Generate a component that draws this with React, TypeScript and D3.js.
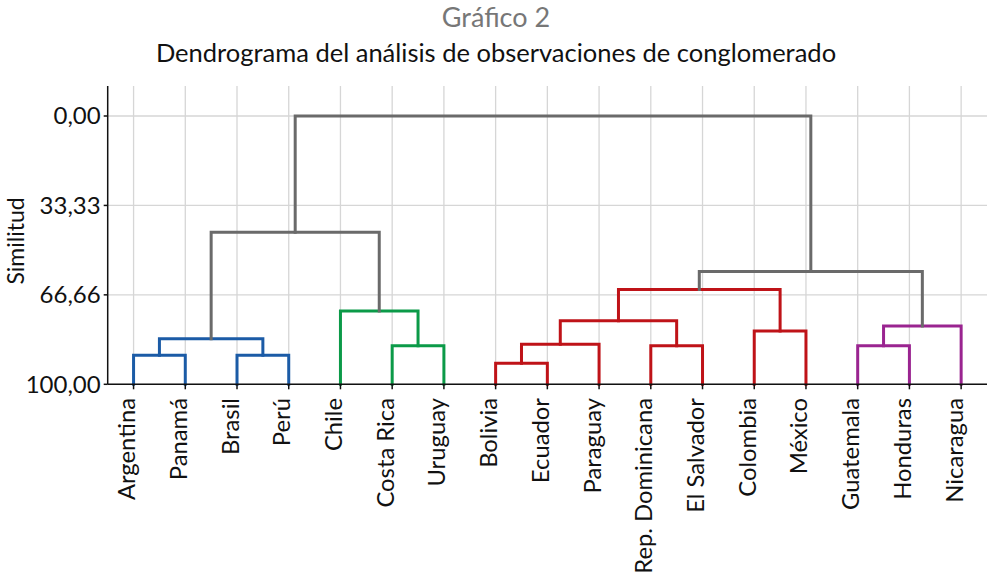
import React from "react";
import * as d3 from "d3";

const leaves = [
  "Argentina", "Panamá", "Brasil", "Perú", "Chile", "Costa Rica", "Uruguay",
  "Bolivia", "Ecuador", "Paraguay", "Rep. Dominicana", "El Salvador",
  "Colombia", "México", "Guatemala", "Honduras", "Nicaragua",
];

// merges: [leftId, rightId, similarity, group]; leaves are 0..16, merges 17..
const mergeLeft = [0, 2, 17, 5, 4, 19, 7, 23, 10, 24, 12, 26, 14, 29, 28, 22];
const mergeRight = [1, 3, 18, 6, 20, 21, 8, 9, 11, 25, 13, 27, 15, 16, 30, 31];
const mergeHeight = [89.2, 89.2, 83.0, 85.6, 72.7, 43.3, 92.2, 85.1, 85.6, 76.3, 80.1, 64.7, 85.6, 78.3, 58.0, 0];
const mergeGroup = ["blue", "blue", "blue", "green", "green", "gray", "red", "red", "red", "red", "red", "red", "purple", "purple", "gray", "gray"];

const yTicks = [0, 33.33, 66.66, 100];
const yTickLabels = ["0,00", "33,33", "66,66", "100,00"];

const groupColor: Record<string, string> = {
  blue: "#1b5ba6",
  green: "#0b9a48",
  red: "#bf1318",
  purple: "#9a2490",
  gray: "#6a6a6a",
};

const W = 987;
const H = 578;
const left = 107.7;
const right = 987;
const top = 86;
const FONT = "Lato, 'Open Sans', sans-serif";

export default function App() {
  const x = d3.scalePoint<number>().domain(leaves.map((_, i) => i)).range([left, right]).padding(0.5);
  const y = d3.scaleLinear().domain([0, 100]).range([116, 384.3]);
  const baseY = y(100);

  const nodeX: number[] = leaves.map((_, i) => x(i) as number);
  const nodeH: number[] = leaves.map(() => 100);
  mergeLeft.forEach((l, k) => {
    const r = mergeRight[k];
    nodeX.push((nodeX[l] + nodeX[r]) / 2);
    nodeH.push(mergeHeight[k]);
  });

  const line = d3.line<[number, number]>();
  const links = mergeLeft.map((l, k) => {
    const r = mergeRight[k];
    const h = mergeHeight[k];
    const pts: [number, number][] = [
      [nodeX[l], y(nodeH[l])],
      [nodeX[l], y(h)],
      [nodeX[r], y(h)],
      [nodeX[r], y(nodeH[r])],
    ];
    return { d: line(pts) as string, color: groupColor[mergeGroup[k]] };
  });

  return (
    <svg width={W} height={H} style={{ position: "absolute", left: 0, top: 0, background: "#fff" }} fontFamily={FONT}>
      <text x={496} y={27} textAnchor="middle" fontSize={27} fill="#777">Gráfico 2</text>
      <text x={496} y={62} textAnchor="middle" fontSize={25.5} fill="#111">
        Dendrograma del análisis de observaciones de conglomerado
      </text>
      {/* grid */}
      {leaves.map((_, i) => (
        <line key={"gv" + i} x1={x(i)} x2={x(i)} y1={top} y2={baseY} stroke="#d6d6d6" strokeWidth={1.3} />
      ))}
      {yTicks.map((t, i) => (
        <line key={"gh" + i} x1={left} x2={right} y1={y(t)} y2={y(t)} stroke="#d6d6d6" strokeWidth={1.3} />
      ))}
      {/* links */}
      {links.map((lk, i) => (
        <path key={"l" + i} d={lk.d} fill="none" stroke={lk.color} strokeWidth={3} strokeLinejoin="miter" strokeLinecap="square" />
      ))}
      {/* axes */}
      <line x1={left} x2={left} y1={top} y2={baseY} stroke="#111" strokeWidth={1.5} />
      <line x1={left} x2={right} y1={baseY} y2={baseY} stroke="#111" strokeWidth={1.5} />
      {yTicks.map((t, i) => (
        <g key={"yt" + i}>
          <line x1={left - 4} x2={left} y1={y(t)} y2={y(t)} stroke="#111" strokeWidth={1.5} />
          <text x={left - 7} y={y(t)} dy="0.35em" textAnchor="end" fontSize={24} fill="#111">{yTickLabels[i]}</text>
        </g>
      ))}
      {leaves.map((name, i) => (
        <g key={"xt" + i}>
          <line x1={x(i)} x2={x(i)} y1={baseY} y2={baseY + 5} stroke="#111" strokeWidth={1.5} />
          <text transform={`translate(${x(i)},398) rotate(-90)`} dy={1.5} textAnchor="end" fontSize={23.8} fill="#111">{name}</text>
        </g>
      ))}
      <text transform={`translate(24,241) rotate(-90)`} textAnchor="middle" fontSize={23} fill="#111">Similitud</text>
    </svg>
  );
}
